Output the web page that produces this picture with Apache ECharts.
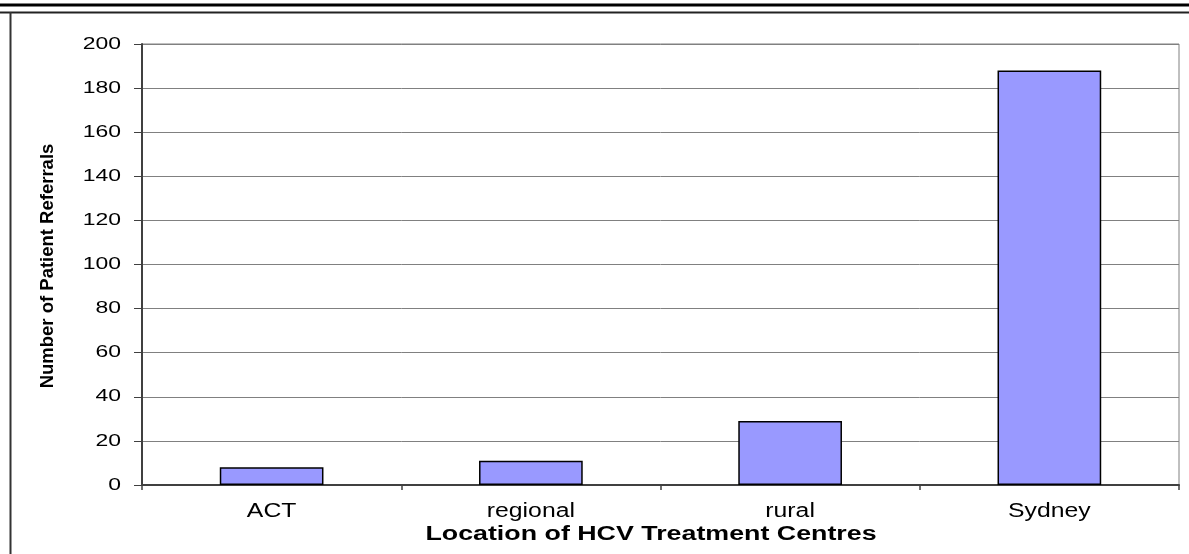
<!DOCTYPE html>
<html>
<head>
<meta charset="utf-8">
<script src="https://cdn.jsdelivr.net/npm/echarts@6/dist/echarts.min.js"></script>
<style>
  html, body { margin: 0; padding: 0; background: #ffffff; }
  #chart { width: 1189px; height: 554px; }
</style>
</head>
<body>
<div id="chart"></div>
<script>
// Referrals per treatment-centre location
const categories = ['ACT', 'regional', 'rural', 'Sydney'];
const referrals = [8, 11, 29, 188];
const yTicks = [0, 20, 40, 60, 80, 100, 120, 140, 160, 180, 200];
const xTitle = 'Location of HCV Treatment Centres';
const yTitle = 'Number of Patient Referrals';

const FONT = '"Liberation Sans", Arial, sans-serif';
const GRID = { left: 142, right: 10, top: 44, bottom: 69 };

const chart = echarts.init(document.getElementById('chart'), null, { renderer: 'canvas' });

chart.setOption({
  animation: false,
  backgroundColor: '#ffffff',
  grid: {
    left: GRID.left, right: GRID.right, top: GRID.top, bottom: GRID.bottom,
    show: true, borderColor: '#808080', borderWidth: 1, backgroundColor: 'transparent'
  },
  xAxis: {
    type: 'category',
    data: categories,
    axisLine: { lineStyle: { color: '#404040', width: 2 } },
    axisTick: { show: true, alignWithLabel: false, length: 5, lineStyle: { color: '#404040', width: 1.5 } },
    axisLabel: { show: false },
    splitLine: { show: false }
  },
  yAxis: {
    type: 'value',
    min: 0, max: 200, interval: 20,
    axisLine: { show: true, lineStyle: { color: '#404040', width: 2 } },
    axisTick: { show: true, length: 8, lineStyle: { color: '#404040', width: 1 } },
    axisLabel: { show: false },
    splitLine: { show: true, lineStyle: { color: '#808080', width: 1 } }
  },
  series: [{
    type: 'bar',
    data: referrals,
    barWidth: '40%',
    itemStyle: { color: '#9999FF', borderColor: '#000000', borderWidth: 1.5 }
  }]
});

// Wide-set text labels placed from the axes' own scales
function label(text, x, y, size, sx, align, vAlign, bold) {
  return {
    type: 'text', x: x, y: y, scaleX: sx, silent: true, z: 10,
    style: {
      text: text, fontSize: size, fontFamily: FONT, fontWeight: bold ? 'bold' : 'normal',
      fill: '#000000', align: align, verticalAlign: vAlign,
      textAlign: align, textVerticalAlign: vAlign
    }
  };
}

const elements = [];

// frame rules
elements.push({ type: 'line', silent: true, shape: { x1: 0, y1: 5, x2: 1189, y2: 5 }, style: { stroke: '#000000', lineWidth: 3 } });
elements.push({ type: 'line', silent: true, shape: { x1: 0, y1: 12.5, x2: 1189, y2: 12.5 }, style: { stroke: '#222222', lineWidth: 2 } });
elements.push({ type: 'line', silent: true, shape: { x1: 10.5, y1: 12, x2: 10.5, y2: 554 }, style: { stroke: '#333333', lineWidth: 2 } });

// value-axis tick labels
yTicks.forEach(function (v) {
  const py = chart.convertToPixel({ yAxisIndex: 0 }, v);
  elements.push(label(String(v), GRID.left - 21, py, 17, 1.35, 'right', 'middle', false));
});

// category labels
categories.forEach(function (c) {
  const px = chart.convertToPixel({ xAxisIndex: 0 }, c);
  elements.push(label(c, px, 511.5, 19.5, 1.27, 'center', 'middle', false));
});

// axis titles
elements.push(label(xTitle, 651, 534, 20, 1.34, 'center', 'middle', true));
elements.push({
  type: 'text', x: 48, y: 266, rotation: Math.PI / 2, silent: true, z: 10,
  style: {
    text: yTitle, fontSize: 18.5, fontFamily: FONT, fontWeight: 'bold', fill: '#000000',
    align: 'center', verticalAlign: 'middle', textAlign: 'center', textVerticalAlign: 'middle'
  }
});

chart.setOption({ graphic: { elements: elements } });
</script>
</body>
</html>
